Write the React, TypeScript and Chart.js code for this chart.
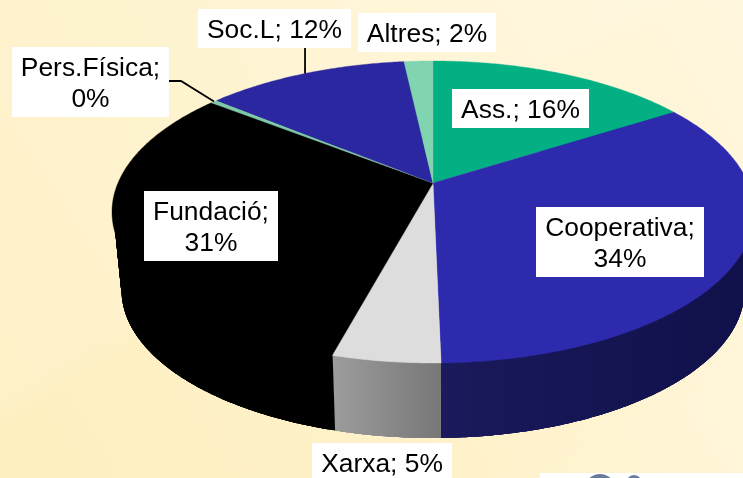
import React, { useEffect, useRef } from "react";
import { Chart, registerables } from "chart.js";

Chart.register(...registerables);

const categories = ["Ass.", "Cooperativa", "Xarxa", "Fundació", "Pers.Física", "Soc.L", "Altres"];
const shares = [16.0, 33.67, 4.53, 31.38, 0.42, 12.25, 1.75];
const percentLabels = ["16%", "34%", "5%", "31%", "0%", "12%", "2%"];
const topColors = ["#02B084", "#2D2AAE", "#DDDDDD", "#000000", "#7FC8A8", "#2A27A0", "#80D4B0"];
const sideStart = ["#015A44", "#1A1A5C", "#9C9C9C", "#000000", "#406454", "#141250", "#406A58"];
const sideEnd = ["#015A44", "#10104A", "#777777", "#000000", "#406454", "#141250", "#406A58"];

// label layout: box x, y, w, h, line break, leader route
const labelBoxes: Record<string, { x: number; y: number; w: number; h: number; two: boolean }> = {
  "Ass.": { x: 452, y: 89, w: 137, h: 39, two: false },
  Cooperativa: { x: 536, y: 207, w: 168, h: 70, two: true },
  Xarxa: { x: 312, y: 443, w: 140, h: 39, two: false },
  "Fundació": { x: 144, y: 191, w: 134, h: 70, two: true },
  "Pers.Física": { x: 12, y: 47, w: 157, h: 70, two: true },
  "Soc.L": { x: 198, y: 9, w: 153, h: 39, two: false },
  Altres: { x: 358, y: 13, w: 138, h: 39, two: false },
};

const upper = { cx: 433, cy: 212, rx: 321, ry: 151 };
const tucked = { cx: 433, cy: 212, rx: 319.5, ry: 149.5 };
const lower = { cx: 433, cy: 290, rx: 311.5, ry: 148 };
const tilt = 0.192;

function project(theta: number, e: { cx: number; cy: number; rx: number; ry: number }) {
  const u = Math.sin(theta);
  const v = -Math.cos(theta);
  const d = 1 - tilt * v;
  const X = (u * Math.sqrt(1 - tilt * tilt)) / d;
  const Y = (v - tilt) / d;
  return { x: e.cx + X * e.rx, y: e.cy + Y * e.ry };
}

const apex = () => ({ x: upper.cx, y: upper.cy - tilt * upper.ry });

const STEP = Math.PI / 360;
const OVERLAP = 4;

function rimAngles(a: number, b: number) {
  const out: number[] = [];
  for (let t = a; t < b; t += STEP) out.push(t);
  out.push(b);
  return out;
}

const perspectivePie = {
  id: "perspectivePie",
  beforeDraw(chart: any) {
    const { ctx, width, height } = chart;
    const g = ctx.createLinearGradient(0, height, width, 0);
    g.addColorStop(0, "#FEEFC0");
    g.addColorStop(0.3, "#FEF1C6");
    g.addColorStop(0.55, "#FFF3CE");
    g.addColorStop(1, "#FFF7DE");
    ctx.save();
    ctx.fillStyle = g;
    ctx.fillRect(0, 0, width, height);
    const band = ctx.createLinearGradient(0, 0, 421, 679);
    band.addColorStop(0, "rgba(255,255,255,0.12)");
    band.addColorStop(0.42, "rgba(255,255,255,0.12)");
    band.addColorStop(0.46, "rgba(255,255,255,0)");
    band.addColorStop(0.82, "rgba(255,255,255,0)");
    band.addColorStop(0.88, "rgba(255,255,255,0.06)");
    band.addColorStop(1, "rgba(255,255,255,0.06)");
    ctx.fillStyle = band;
    ctx.fillRect(0, 0, width, height);
    ctx.restore();
  },
  beforeDatasetDraw(chart: any, args: any) {
    const { ctx } = chart;
    const arcs = args.meta.data;
    const spans = arcs.map((el: any) => {
      const p = el.getProps(["startAngle", "endAngle"], true);
      return [p.startAngle + Math.PI / 2, p.endAngle + Math.PI / 2];
    });
    ctx.save();
    // side wall, swept in overlapping strips so the outline follows the silhouette
    spans.forEach(([a, b]: number[], i: number) => {
      const ts = rimAngles(a, b);
      const tops = ts.map((t) => project(t, tucked));
      const bots = ts.map((t) => project(t, lower));
      const xs = tops.map((p) => p.x);
      const grad = ctx.createLinearGradient(Math.min(...xs), 0, Math.max(...xs), 0);
      grad.addColorStop(0, sideStart[i]);
      grad.addColorStop(1, sideEnd[i]);
      ctx.fillStyle = grad;
      for (let n = 0; n < ts.length - 1; n++) {
        const end = Math.min(n + OVERLAP, ts.length - 1);
        ctx.beginPath();
        for (let k = n; k <= end; k++) {
          if (k === n) ctx.moveTo(tops[k].x, tops[k].y);
          else ctx.lineTo(tops[k].x, tops[k].y);
        }
        for (let k = end; k >= n; k--) ctx.lineTo(bots[k].x, bots[k].y);
        ctx.closePath();
        ctx.fill();
      }
    });
    // top face
    const c = apex();
    spans.forEach(([a, b]: number[], i: number) => {
      ctx.beginPath();
      ctx.moveTo(c.x, c.y);
      rimAngles(a, b).forEach((t) => {
        const p = project(t, upper);
        ctx.lineTo(p.x, p.y);
      });
      ctx.closePath();
      ctx.fillStyle = topColors[i];
      ctx.strokeStyle = topColors[i];
      ctx.lineWidth = 0.4;
      ctx.fill();
      ctx.stroke();
    });
    ctx.restore();
    return false;
  },
  afterDraw(chart: any) {
    const { ctx } = chart;
    const arcs = chart.getDatasetMeta(0).data;
    const mid = (i: number) => {
      const p = arcs[i].getProps(["startAngle", "endAngle"], true);
      return project((p.startAngle + p.endAngle) / 2 + Math.PI / 2, upper);
    };
    ctx.save();
    // corner logo sheet
    ctx.fillStyle = "#FFFFFF";
    ctx.fillRect(540, 473, 203, 5);
    ctx.fillStyle = "#6C7A9C";
    ctx.beginPath();
    ctx.ellipse(600, 486, 14, 12, 0, 0, Math.PI * 2);
    ctx.ellipse(634, 486, 9, 11, 0, 0, Math.PI * 2);
    ctx.fill();

    // leaders
    ctx.strokeStyle = "#000000";
    ctx.lineWidth = 1.8;
    const soc = mid(categories.indexOf("Soc.L"));
    const socBox = labelBoxes["Soc.L"];
    ctx.beginPath();
    ctx.moveTo(soc.x, soc.y);
    ctx.lineTo(soc.x, socBox.y + socBox.h);
    ctx.stroke();
    const pers = mid(categories.indexOf("Pers.Física"));
    const persBox = labelBoxes["Pers.Física"];
    ctx.beginPath();
    ctx.moveTo(pers.x, pers.y);
    ctx.lineTo(persBox.x + persBox.w + 12, persBox.y + 34);
    ctx.lineTo(persBox.x + persBox.w, persBox.y + 34);
    ctx.stroke();

    // labels
    ctx.font = '26.4px "Liberation Sans", Arial, sans-serif';
    ctx.textAlign = "center";
    ctx.textBaseline = "alphabetic";
    categories.forEach((name, i) => {
      const b = labelBoxes[name];
      ctx.fillStyle = "#FFFFFF";
      ctx.fillRect(b.x, b.y, b.w, b.h);
      ctx.fillStyle = "#000000";
      const cx = b.x + b.w / 2;
      if (b.two) {
        ctx.fillText(name + ";", cx, b.y + 29);
        ctx.fillText(percentLabels[i], cx, b.y + 60);
      } else {
        ctx.fillText(name + "; " + percentLabels[i], cx, b.y + 29);
      }
    });
    ctx.restore();
  },
};

export default function App() {
  const ref = useRef<HTMLCanvasElement>(null);
  useEffect(() => {
    const chart = new Chart(ref.current as HTMLCanvasElement, {
      type: "pie",
      data: {
        labels: categories,
        datasets: [{ data: shares, backgroundColor: topColors, borderWidth: 0 }],
      },
      options: {
        animation: false,
        responsive: false,
        plugins: { legend: { display: false }, tooltip: { enabled: false } },
      },
      plugins: [perspectivePie],
    } as any);
    return () => chart.destroy();
  }, []);
  return (
    <div style={{ position: "fixed", left: 0, top: 0, width: 743, height: 478, overflow: "hidden" }}>
      <canvas ref={ref} width={743} height={478} style={{ display: "block" }} />
    </div>
  );
}
